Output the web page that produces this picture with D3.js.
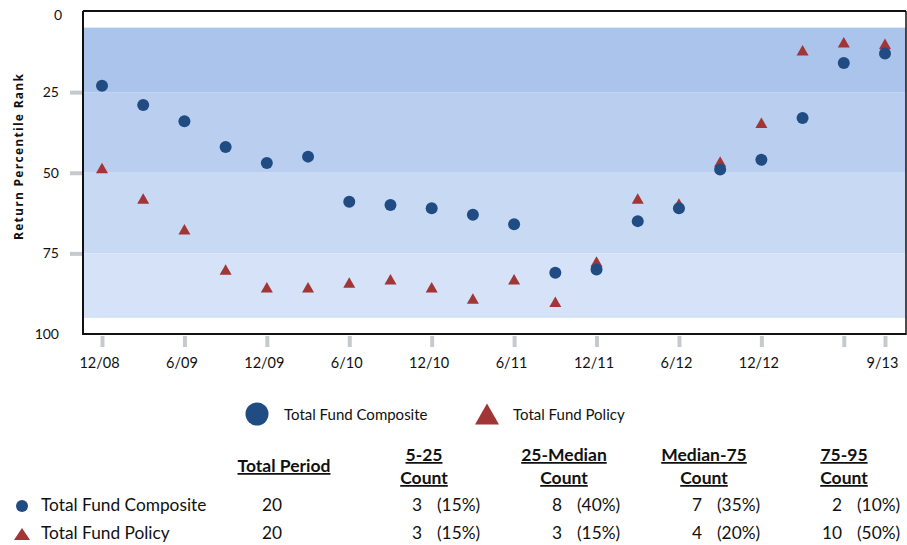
<!DOCTYPE html>
<html><head><meta charset="utf-8">
<script src="https://cdn.jsdelivr.net/npm/d3@7"></script>
<style>
body{margin:0;background:#fff;}
svg{display:block;font-family:Lato,"Open Sans",sans-serif;}
</style></head>
<body><svg id="c" width="907" height="545"></svg>
<script>
const quarters = ["12/08","3/09","6/09","9/09","12/09","3/10","6/10","9/10","12/10","3/11","6/11","9/11","12/11","3/12","6/12","9/12","12/12","3/13","6/13","9/13"];
const composite = [23,29,34,42,47,45,59,60,61,63,66,81,80,65,61,49,46,33,16,13];
const policy = [48.5,58,67.5,80,85.5,85.5,84,83,85.5,89,83,90,77.5,58,59.5,46.5,34.5,12,9.5,10];
const xTicks = ["12/08","6/09","12/09","6/10","12/10","6/11","12/11","6/12","12/12","6/13","9/13"];
const xTickLabels = ["12/08","6/09","12/09","6/10","12/10","6/11","12/11","6/12","12/12","","9/13"];
const yTicks = [0,25,50,75,100];
const bands = [{from:5,to:25},{from:25,to:50},{from:50,to:75},{from:75,to:95}];
const bandColors = ["#abc4ec","#bacef0","#c8d9f3","#d5e2f7"];
const seriesNames = ["Total Fund Composite","Total Fund Policy"];
const seriesColors = ["#214c83","#a23535"];
const tableHeaders = [["Total Period"],["5-25","Count"],["25-Median","Count"],["Median-75","Count"],["75-95","Count"]];
const totalPeriod = [20,20];
const counts = [[3,8,7,2],[3,3,4,10]];
const pcts = [["(15%)","(40%)","(35%)","(10%)"],["(15%)","(15%)","(20%)","(50%)"]];

const svg = d3.select("#c");
const L=83, R=906, T=11, B=334;
const x = d3.scalePoint().domain(quarters).range([102,885]).padding(0);
const y = d3.scaleLinear().domain([0,100]).range([T+0.5,B]);

// bands
svg.append("g").selectAll("rect").data(bands).join("rect")
  .attr("x",L).attr("width",R-L)
  .attr("y",d=>y(d.from)).attr("height",d=>y(d.to)-y(d.from))
  .attr("fill",(d,i)=>bandColors[i]);

// y axis
const ya = svg.append("g").attr("transform",`translate(${L},0)`)
  .call(d3.axisLeft(y).tickValues(yTicks).tickSize(13).tickPadding(11));
ya.select(".domain").remove();
ya.selectAll(".tick line").attr("stroke","#c6cacf").attr("stroke-width",4)
  .attr("x2",-13).attr("x1",-1)
  .attr("opacity",d=>(d===0||d===100)?0:1);
ya.selectAll(".tick text").attr("font-size",14).attr("fill","#111").attr("font-family","Lato,sans-serif")
  .attr("dx",d=>d===0?3:0).attr("dy",d=>d===0?"0.6em":"0.32em");

// x axis
const xa = svg.append("g").attr("transform",`translate(0,${B})`)
  .call(d3.axisBottom(x).tickValues(xTicks).tickSize(13).tickPadding(11)
    .tickFormat((d)=>xTickLabels[xTicks.indexOf(d)]));
xa.select(".domain").remove();
xa.selectAll(".tick line").attr("stroke","#c6cacf").attr("stroke-width",4).attr("y1",2);
xa.selectAll(".tick text").attr("font-size",14.5).attr("fill","#111").attr("font-family","Lato,sans-serif").attr("dx",-3);

// frame
svg.append("line").attr("x1",L).attr("x2",R).attr("y1",T).attr("y2",T).attr("stroke","#111").attr("stroke-width",2);
svg.append("line").attr("x1",L).attr("x2",R).attr("y1",B).attr("y2",B).attr("stroke","#111").attr("stroke-width",2);
svg.append("line").attr("x1",L).attr("x2",L).attr("y1",T).attr("y2",B+1).attr("stroke","#111").attr("stroke-width",2);
svg.append("line").attr("x1",R).attr("x2",R).attr("y1",T).attr("y2",B+1).attr("stroke","#111").attr("stroke-width",1.5);

// y title
svg.append("text").attr("transform",`translate(23,157) rotate(-90)`)
  .attr("x",-83).attr("font-family","Open Sans,sans-serif")
  .attr("font-weight","bold").attr("font-size",12)
  .attr("textLength",166).attr("lengthAdjust","spacing")
  .attr("fill","#111").text("Return Percentile Rank");

const tri = (w,h)=>`M0,${-h/2}L${w/2},${h/2}L${-w/2},${h/2}Z`;

// policy triangles
svg.append("g").selectAll("path").data(policy).join("path")
  .attr("d",tri(12,10.5))
  .attr("transform",(d,i)=>`translate(${x(quarters[i])},${y(d)})`)
  .attr("fill",seriesColors[1]);
// composite circles
svg.append("g").selectAll("circle").data(composite).join("circle")
  .attr("cx",(d,i)=>x(quarters[i])).attr("cy",d=>y(d)).attr("r",6)
  .attr("fill",seriesColors[0]);

// legend
svg.append("circle").attr("cx",257).attr("cy",414).attr("r",11.5).attr("fill",seriesColors[0]);
svg.append("text").attr("x",284).attr("y",420).attr("font-size",15).attr("fill","#111").text(seriesNames[0]);
svg.append("path").attr("d",tri(24,21)).attr("transform","translate(487,414)").attr("fill",seriesColors[1]);
svg.append("text").attr("x",513).attr("y",420).attr("font-size",15).attr("fill","#111").text(seriesNames[1]);

// table headers
const hx = [284,424,564,704,844];
tableHeaders.forEach((lines,i)=>{
  lines.forEach((t,j)=>{
    const yy = lines.length===1 ? 472 : (j===0?461:484);
    svg.append("text").attr("x",hx[i]).attr("y",yy).attr("text-anchor","middle")
      .attr("font-size",17.5).attr("font-weight","bold").attr("fill","#111")
      .attr("text-decoration","underline").text(t);
  });
});

// table rows
const rowY = [511,539];
rowY.forEach((ry,r)=>{
  if(r===0) svg.append("circle").attr("cx",22).attr("cy",ry-5).attr("r",6).attr("fill",seriesColors[0]);
  else svg.append("path").attr("d",tri(16,12)).attr("transform",`translate(22,${ry-5})`).attr("fill",seriesColors[1]);
  svg.append("text").attr("x",41).attr("y",ry).attr("font-size",17.3).attr("fill","#111").text(seriesNames[r]);
  svg.append("text").attr("x",272).attr("y",ry).attr("text-anchor","middle").attr("font-size",17.3).attr("fill","#111").text(totalPeriod[r]);
  counts[r].forEach((c,k)=>{
    svg.append("text").attr("x",422+140*k).attr("y",ry).attr("text-anchor","end").attr("font-size",17.3).attr("fill","#111").text(c);
    svg.append("text").attr("x",437+140*k).attr("y",ry).attr("font-size",17.3).attr("fill","#111").text(pcts[r][k]);
  });
});
</script></body></html>
